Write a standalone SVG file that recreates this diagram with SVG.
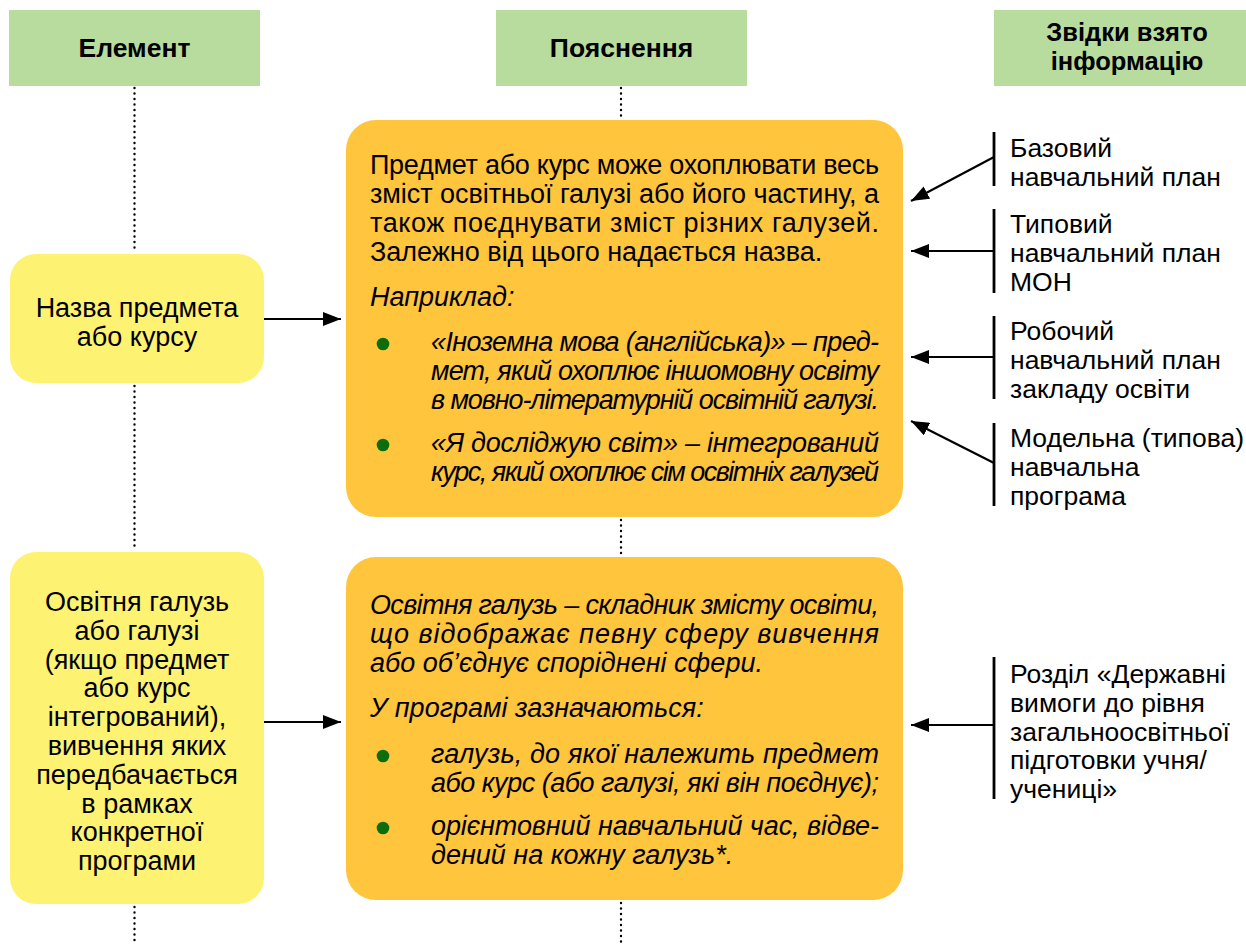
<svg xmlns="http://www.w3.org/2000/svg" width="1246" height="944" viewBox="0 0 1246 944">
<style>
.hdr{fill:#B8DB9E}
.hd{font-family:"Liberation Sans",Arial,sans-serif;font-weight:bold;font-size:26.5px;fill:#000;text-anchor:middle}
.h3{font-size:25.5px}
.yel{fill:#FEF273}
.org{fill:#FFC53D}
.t{font-family:"Liberation Sans",Arial,sans-serif;font-size:27px;fill:#000}
.r{font-size:26.5px}
.c{text-anchor:middle}
.i{font-style:italic}
.dot{stroke:#000;stroke-width:2.4;stroke-linecap:round;stroke-dasharray:0 5.5;fill:none}
.ln{stroke:#000;stroke-width:2.2;fill:none}
.bar{stroke:#000;stroke-width:2.8}
.bul{fill:#0B6E0B}
</style>
<defs>
<marker id="ah" markerUnits="userSpaceOnUse" markerWidth="18" markerHeight="14" refX="18" refY="7" orient="auto" viewBox="0 0 18 14">
<path d="M0,0 L18,7 L0,14 z" fill="#000"/>
</marker>
</defs>

<g id="connectors">
<line class="dot" x1="134.5" y1="88" x2="134.5" y2="253"/>
<line class="dot" x1="134.5" y1="386" x2="134.5" y2="551"/>
<line class="dot" x1="134.5" y1="907" x2="134.5" y2="944"/>
<line class="dot" x1="621" y1="88" x2="621" y2="119"/>
<line class="dot" x1="621" y1="520" x2="621" y2="556"/>
<line class="dot" x1="621" y1="903" x2="621" y2="944"/>
<line class="ln" x1="264" y1="319" x2="341" y2="319" marker-end="url(#ah)"/>
<line class="ln" x1="264" y1="722" x2="341" y2="722" marker-end="url(#ah)"/>
<line class="ln" x1="994" y1="157" x2="911" y2="201" marker-end="url(#ah)"/>
<line class="ln" x1="994" y1="251" x2="911" y2="251" marker-end="url(#ah)"/>
<line class="ln" x1="994" y1="357" x2="911" y2="357" marker-end="url(#ah)"/>
<line class="ln" x1="994" y1="463" x2="911" y2="421" marker-end="url(#ah)"/>
<line class="ln" x1="994" y1="725" x2="911" y2="725" marker-end="url(#ah)"/>
</g>

<g id="header-element">
<rect class="hdr" x="9" y="10" width="251" height="76"/>
<text class="hd" x="134.5" y="57">Елемент</text>
</g>
<g id="header-explanation">
<rect class="hdr" x="496" y="10" width="251" height="76"/>
<text class="hd" x="621.5" y="57">Пояснення</text>
</g>
<g id="header-source">
<rect class="hdr" x="994" y="10" width="252" height="76"/>
<text class="hd h3" x="1127" y="41">Звідки взято</text>
<text class="hd h3" x="1127" y="70">інформацію</text>
</g>

<g id="node-name">
<rect class="yel" x="10" y="254" width="254" height="129" rx="26"/>
<text class="t c" x="137" y="317">Назва предмета</text>
<text class="t c" x="137" y="346">або курсу</text>
</g>

<g id="node-field">
<rect class="yel" x="10" y="552" width="254" height="352" rx="26"/>
<text class="t c" x="137" y="611">Освітня галузь</text>
<text class="t c" x="137" y="640">або галузі</text>
<text class="t c" x="137" y="669">(якщо предмет</text>
<text class="t c" x="137" y="697">або курс</text>
<text class="t c" x="137" y="726">інтегрований),</text>
<text class="t c" x="137" y="755">вивчення яких</text>
<text class="t c" x="137" y="784">передбачається</text>
<text class="t c" x="137" y="813">в рамках</text>
<text class="t c" x="137" y="841">конкретної</text>
<text class="t c" x="137" y="870">програми</text>
</g>

<g id="explain-name">
<rect class="org" x="346" y="120" width="557" height="397" rx="30"/>
<text class="t" x="370" y="174" textLength="509" lengthAdjust="spacing">Предмет або курс може охоплювати весь</text>
<text class="t" x="370" y="203" textLength="509" lengthAdjust="spacing">зміст освітньої галузі або його частину, а</text>
<text class="t" x="370" y="232" textLength="509" lengthAdjust="spacing">також поєднувати зміст різних галузей.</text>
<text class="t" x="370" y="261">Залежно від цього надається назва.</text>
<text class="t i" x="370" y="306">Наприклад:</text>
<circle class="bul" cx="383" cy="344" r="6.3"/>
<text class="t i" x="431" y="351" textLength="448" lengthAdjust="spacing">«Іноземна мова (англійська)» – пред-</text>
<text class="t i" x="431" y="380" textLength="448" lengthAdjust="spacing">мет, який охоплює іншомовну освіту</text>
<text class="t i" x="431" y="409" textLength="448" lengthAdjust="spacing">в мовно-літературній освітній галузі.</text>
<circle class="bul" cx="383" cy="445" r="6.3"/>
<text class="t i" x="431" y="452" textLength="448" lengthAdjust="spacing">«Я досліджую світ» – інтегрований</text>
<text class="t i" x="431" y="481" textLength="448" lengthAdjust="spacing">курс, який охоплює сім освітніх галузей</text>
</g>

<g id="explain-field">
<rect class="org" x="346" y="557" width="557" height="343" rx="30"/>
<text class="t i" x="370" y="614" textLength="509" lengthAdjust="spacing">Освітня галузь – складник змісту освіти,</text>
<text class="t i" x="370" y="643" textLength="509" lengthAdjust="spacing">що відображає певну сферу вивчення</text>
<text class="t i" x="370" y="672">або об’єднує споріднені сфери.</text>
<text class="t i" x="370" y="717">У програмі зазначаються:</text>
<circle class="bul" cx="383" cy="756" r="6.3"/>
<text class="t i" x="431" y="763" textLength="448" lengthAdjust="spacing">галузь, до якої належить предмет</text>
<text class="t i" x="431" y="792" textLength="448" lengthAdjust="spacing">або курс (або галузі, які він поєднує);</text>
<circle class="bul" cx="383" cy="828" r="6.3"/>
<text class="t i" x="431" y="835" textLength="448" lengthAdjust="spacing">орієнтовний навчальний час, відве-</text>
<text class="t i" x="431" y="864">дений на кожну галузь*.</text>
</g>

<g id="src-basic">
<line class="bar" x1="994" y1="132" x2="994" y2="186"/>
<text class="t r" x="1010" y="157">Базовий</text>
<text class="t r" x="1010" y="186">навчальний план</text>
</g>
<g id="src-typical">
<line class="bar" x1="994" y1="209" x2="994" y2="293"/>
<text class="t r" x="1010" y="233">Типовий</text>
<text class="t r" x="1010" y="262">навчальний план</text>
<text class="t r" x="1010" y="291">МОН</text>
</g>
<g id="src-working">
<line class="bar" x1="994" y1="316" x2="994" y2="399"/>
<text class="t r" x="1010" y="340">Робочий</text>
<text class="t r" x="1010" y="369">навчальний план</text>
<text class="t r" x="1010" y="398">закладу освіти</text>
</g>
<g id="src-model">
<line class="bar" x1="994" y1="423" x2="994" y2="506"/>
<text class="t r" x="1010" y="447">Модельна (типова)</text>
<text class="t r" x="1010" y="476">навчальна</text>
<text class="t r" x="1010" y="505">програма</text>
</g>
<g id="src-section">
<line class="bar" x1="994" y1="657" x2="994" y2="799"/>
<text class="t r" x="1010" y="683">Розділ «Державні</text>
<text class="t r" x="1010" y="712">вимоги до рівня</text>
<text class="t r" x="1010" y="741">загальноосвітньої</text>
<text class="t r" x="1010" y="769">підготовки учня/</text>
<text class="t r" x="1010" y="798">учениці»</text>
</g>
</svg>
